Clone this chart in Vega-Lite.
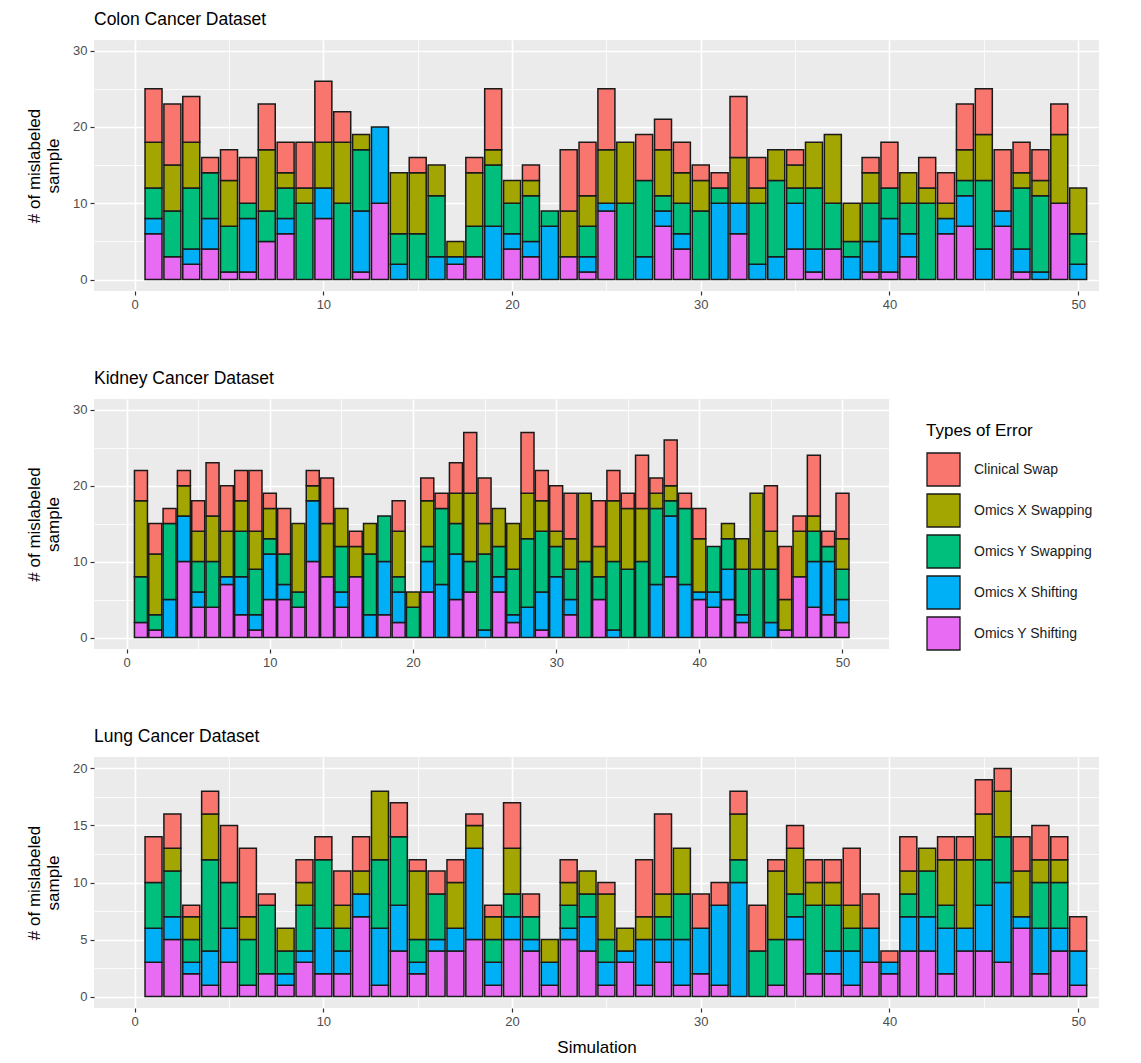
{
  "$schema": "https://vega.github.io/schema/vega-lite/v6.json",
  "background": "white",
  "padding": {"left": 25, "top": 10, "right": 4, "bottom": 4},
  "config": {
    "font": "Liberation Sans",
    "view": {"fill": "#EBEBEB", "stroke": null},
    "title": {"anchor": "start", "frame": "group", "fontSize": 17.5, "fontWeight": "normal", "color": "#000000", "offset": 12, "font": "Liberation Sans"},
    "axis": {
      "domain": false,
      "tickColor": "#333333",
      "tickSize": 4,
      "tickWidth": 1.2,
      "labelColor": "#4D4D4D",
      "labelFontSize": 13,
      "labelPadding": 3,
      "labelOverlap": false,
      "gridColor": "#FFFFFF",
      "titleFontSize": 17,
      "titleFontWeight": "normal",
      "titleColor": "#000000",
      "titleFont": "Liberation Sans",
      "labelFont": "Liberation Sans"
    }
  },
  "datasets": {
    "colon": [
      {"sim":1,"Omics Y Shifting":6,"Omics X Shifting":2,"Omics Y Swapping":4,"Omics X Swapping":6,"Clinical Swap":7},
      {"sim":2,"Omics Y Shifting":3,"Omics X Shifting":0,"Omics Y Swapping":6,"Omics X Swapping":6,"Clinical Swap":8},
      {"sim":3,"Omics Y Shifting":2,"Omics X Shifting":2,"Omics Y Swapping":8,"Omics X Swapping":6,"Clinical Swap":6},
      {"sim":4,"Omics Y Shifting":4,"Omics X Shifting":4,"Omics Y Swapping":6,"Omics X Swapping":0,"Clinical Swap":2},
      {"sim":5,"Omics Y Shifting":1,"Omics X Shifting":0,"Omics Y Swapping":6,"Omics X Swapping":6,"Clinical Swap":4},
      {"sim":6,"Omics Y Shifting":1,"Omics X Shifting":7,"Omics Y Swapping":2,"Omics X Swapping":0,"Clinical Swap":6},
      {"sim":7,"Omics Y Shifting":5,"Omics X Shifting":0,"Omics Y Swapping":4,"Omics X Swapping":8,"Clinical Swap":6},
      {"sim":8,"Omics Y Shifting":6,"Omics X Shifting":2,"Omics Y Swapping":4,"Omics X Swapping":2,"Clinical Swap":4},
      {"sim":9,"Omics Y Shifting":0,"Omics X Shifting":0,"Omics Y Swapping":10,"Omics X Swapping":2,"Clinical Swap":6},
      {"sim":10,"Omics Y Shifting":8,"Omics X Shifting":4,"Omics Y Swapping":0,"Omics X Swapping":6,"Clinical Swap":8},
      {"sim":11,"Omics Y Shifting":0,"Omics X Shifting":0,"Omics Y Swapping":10,"Omics X Swapping":8,"Clinical Swap":4},
      {"sim":12,"Omics Y Shifting":1,"Omics X Shifting":8,"Omics Y Swapping":8,"Omics X Swapping":2,"Clinical Swap":0},
      {"sim":13,"Omics Y Shifting":10,"Omics X Shifting":10,"Omics Y Swapping":0,"Omics X Swapping":0,"Clinical Swap":0},
      {"sim":14,"Omics Y Shifting":0,"Omics X Shifting":2,"Omics Y Swapping":4,"Omics X Swapping":8,"Clinical Swap":0},
      {"sim":15,"Omics Y Shifting":0,"Omics X Shifting":0,"Omics Y Swapping":6,"Omics X Swapping":8,"Clinical Swap":2},
      {"sim":16,"Omics Y Shifting":0,"Omics X Shifting":3,"Omics Y Swapping":8,"Omics X Swapping":4,"Clinical Swap":0},
      {"sim":17,"Omics Y Shifting":2,"Omics X Shifting":1,"Omics Y Swapping":0,"Omics X Swapping":2,"Clinical Swap":0},
      {"sim":18,"Omics Y Shifting":3,"Omics X Shifting":0,"Omics Y Swapping":4,"Omics X Swapping":7,"Clinical Swap":2},
      {"sim":19,"Omics Y Shifting":0,"Omics X Shifting":7,"Omics Y Swapping":8,"Omics X Swapping":2,"Clinical Swap":8},
      {"sim":20,"Omics Y Shifting":4,"Omics X Shifting":2,"Omics Y Swapping":4,"Omics X Swapping":3,"Clinical Swap":0},
      {"sim":21,"Omics Y Shifting":3,"Omics X Shifting":2,"Omics Y Swapping":6,"Omics X Swapping":2,"Clinical Swap":2},
      {"sim":22,"Omics Y Shifting":0,"Omics X Shifting":7,"Omics Y Swapping":2,"Omics X Swapping":0,"Clinical Swap":0},
      {"sim":23,"Omics Y Shifting":3,"Omics X Shifting":0,"Omics Y Swapping":0,"Omics X Swapping":6,"Clinical Swap":8},
      {"sim":24,"Omics Y Shifting":1,"Omics X Shifting":2,"Omics Y Swapping":4,"Omics X Swapping":4,"Clinical Swap":7},
      {"sim":25,"Omics Y Shifting":9,"Omics X Shifting":1,"Omics Y Swapping":0,"Omics X Swapping":7,"Clinical Swap":8},
      {"sim":26,"Omics Y Shifting":0,"Omics X Shifting":0,"Omics Y Swapping":10,"Omics X Swapping":8,"Clinical Swap":0},
      {"sim":27,"Omics Y Shifting":0,"Omics X Shifting":3,"Omics Y Swapping":10,"Omics X Swapping":0,"Clinical Swap":6},
      {"sim":28,"Omics Y Shifting":7,"Omics X Shifting":2,"Omics Y Swapping":2,"Omics X Swapping":6,"Clinical Swap":4},
      {"sim":29,"Omics Y Shifting":4,"Omics X Shifting":2,"Omics Y Swapping":4,"Omics X Swapping":4,"Clinical Swap":4},
      {"sim":30,"Omics Y Shifting":0,"Omics X Shifting":0,"Omics Y Swapping":9,"Omics X Swapping":4,"Clinical Swap":2},
      {"sim":31,"Omics Y Shifting":0,"Omics X Shifting":10,"Omics Y Swapping":2,"Omics X Swapping":0,"Clinical Swap":2},
      {"sim":32,"Omics Y Shifting":6,"Omics X Shifting":4,"Omics Y Swapping":0,"Omics X Swapping":6,"Clinical Swap":8},
      {"sim":33,"Omics Y Shifting":0,"Omics X Shifting":2,"Omics Y Swapping":8,"Omics X Swapping":2,"Clinical Swap":4},
      {"sim":34,"Omics Y Shifting":0,"Omics X Shifting":3,"Omics Y Swapping":10,"Omics X Swapping":4,"Clinical Swap":0},
      {"sim":35,"Omics Y Shifting":4,"Omics X Shifting":6,"Omics Y Swapping":2,"Omics X Swapping":3,"Clinical Swap":2},
      {"sim":36,"Omics Y Shifting":1,"Omics X Shifting":3,"Omics Y Swapping":8,"Omics X Swapping":6,"Clinical Swap":0},
      {"sim":37,"Omics Y Shifting":4,"Omics X Shifting":0,"Omics Y Swapping":6,"Omics X Swapping":9,"Clinical Swap":0},
      {"sim":38,"Omics Y Shifting":0,"Omics X Shifting":3,"Omics Y Swapping":2,"Omics X Swapping":5,"Clinical Swap":0},
      {"sim":39,"Omics Y Shifting":1,"Omics X Shifting":4,"Omics Y Swapping":5,"Omics X Swapping":4,"Clinical Swap":2},
      {"sim":40,"Omics Y Shifting":1,"Omics X Shifting":7,"Omics Y Swapping":4,"Omics X Swapping":0,"Clinical Swap":6},
      {"sim":41,"Omics Y Shifting":3,"Omics X Shifting":3,"Omics Y Swapping":4,"Omics X Swapping":4,"Clinical Swap":0},
      {"sim":42,"Omics Y Shifting":0,"Omics X Shifting":0,"Omics Y Swapping":10,"Omics X Swapping":2,"Clinical Swap":4},
      {"sim":43,"Omics Y Shifting":6,"Omics X Shifting":2,"Omics Y Swapping":0,"Omics X Swapping":2,"Clinical Swap":4},
      {"sim":44,"Omics Y Shifting":7,"Omics X Shifting":4,"Omics Y Swapping":2,"Omics X Swapping":4,"Clinical Swap":6},
      {"sim":45,"Omics Y Shifting":0,"Omics X Shifting":4,"Omics Y Swapping":9,"Omics X Swapping":6,"Clinical Swap":6},
      {"sim":46,"Omics Y Shifting":7,"Omics X Shifting":2,"Omics Y Swapping":0,"Omics X Swapping":0,"Clinical Swap":8},
      {"sim":47,"Omics Y Shifting":1,"Omics X Shifting":3,"Omics Y Swapping":8,"Omics X Swapping":2,"Clinical Swap":4},
      {"sim":48,"Omics Y Shifting":0,"Omics X Shifting":1,"Omics Y Swapping":10,"Omics X Swapping":2,"Clinical Swap":4},
      {"sim":49,"Omics Y Shifting":10,"Omics X Shifting":0,"Omics Y Swapping":0,"Omics X Swapping":9,"Clinical Swap":4},
      {"sim":50,"Omics Y Shifting":0,"Omics X Shifting":2,"Omics Y Swapping":4,"Omics X Swapping":6,"Clinical Swap":0}
    ],
    "kidney": [
      {"sim":1,"Omics Y Shifting":2,"Omics X Shifting":0,"Omics Y Swapping":6,"Omics X Swapping":10,"Clinical Swap":4},
      {"sim":2,"Omics Y Shifting":1,"Omics X Shifting":0,"Omics Y Swapping":2,"Omics X Swapping":8,"Clinical Swap":4},
      {"sim":3,"Omics Y Shifting":0,"Omics X Shifting":5,"Omics Y Swapping":10,"Omics X Swapping":0,"Clinical Swap":2},
      {"sim":4,"Omics Y Shifting":10,"Omics X Shifting":6,"Omics Y Swapping":0,"Omics X Swapping":4,"Clinical Swap":2},
      {"sim":5,"Omics Y Shifting":4,"Omics X Shifting":2,"Omics Y Swapping":4,"Omics X Swapping":4,"Clinical Swap":4},
      {"sim":6,"Omics Y Shifting":4,"Omics X Shifting":0,"Omics Y Swapping":6,"Omics X Swapping":6,"Clinical Swap":7},
      {"sim":7,"Omics Y Shifting":7,"Omics X Shifting":1,"Omics Y Swapping":0,"Omics X Swapping":6,"Clinical Swap":6},
      {"sim":8,"Omics Y Shifting":3,"Omics X Shifting":5,"Omics Y Swapping":6,"Omics X Swapping":4,"Clinical Swap":4},
      {"sim":9,"Omics Y Shifting":1,"Omics X Shifting":2,"Omics Y Swapping":6,"Omics X Swapping":5,"Clinical Swap":8},
      {"sim":10,"Omics Y Shifting":5,"Omics X Shifting":6,"Omics Y Swapping":2,"Omics X Swapping":4,"Clinical Swap":2},
      {"sim":11,"Omics Y Shifting":5,"Omics X Shifting":2,"Omics Y Swapping":4,"Omics X Swapping":0,"Clinical Swap":6},
      {"sim":12,"Omics Y Shifting":4,"Omics X Shifting":0,"Omics Y Swapping":2,"Omics X Swapping":9,"Clinical Swap":0},
      {"sim":13,"Omics Y Shifting":10,"Omics X Shifting":8,"Omics Y Swapping":0,"Omics X Swapping":2,"Clinical Swap":2},
      {"sim":14,"Omics Y Shifting":8,"Omics X Shifting":0,"Omics Y Swapping":0,"Omics X Swapping":7,"Clinical Swap":6},
      {"sim":15,"Omics Y Shifting":4,"Omics X Shifting":2,"Omics Y Swapping":6,"Omics X Swapping":5,"Clinical Swap":0},
      {"sim":16,"Omics Y Shifting":8,"Omics X Shifting":0,"Omics Y Swapping":0,"Omics X Swapping":4,"Clinical Swap":2},
      {"sim":17,"Omics Y Shifting":0,"Omics X Shifting":3,"Omics Y Swapping":8,"Omics X Swapping":4,"Clinical Swap":0},
      {"sim":18,"Omics Y Shifting":3,"Omics X Shifting":7,"Omics Y Swapping":6,"Omics X Swapping":0,"Clinical Swap":0},
      {"sim":19,"Omics Y Shifting":2,"Omics X Shifting":4,"Omics Y Swapping":2,"Omics X Swapping":6,"Clinical Swap":4},
      {"sim":20,"Omics Y Shifting":0,"Omics X Shifting":0,"Omics Y Swapping":4,"Omics X Swapping":2,"Clinical Swap":0},
      {"sim":21,"Omics Y Shifting":6,"Omics X Shifting":4,"Omics Y Swapping":2,"Omics X Swapping":6,"Clinical Swap":3},
      {"sim":22,"Omics Y Shifting":0,"Omics X Shifting":7,"Omics Y Swapping":10,"Omics X Swapping":0,"Clinical Swap":2},
      {"sim":23,"Omics Y Shifting":5,"Omics X Shifting":6,"Omics Y Swapping":4,"Omics X Swapping":4,"Clinical Swap":4},
      {"sim":24,"Omics Y Shifting":6,"Omics X Shifting":0,"Omics Y Swapping":4,"Omics X Swapping":9,"Clinical Swap":8},
      {"sim":25,"Omics Y Shifting":0,"Omics X Shifting":1,"Omics Y Swapping":10,"Omics X Swapping":4,"Clinical Swap":6},
      {"sim":26,"Omics Y Shifting":6,"Omics X Shifting":2,"Omics Y Swapping":4,"Omics X Swapping":5,"Clinical Swap":0},
      {"sim":27,"Omics Y Shifting":2,"Omics X Shifting":1,"Omics Y Swapping":6,"Omics X Swapping":6,"Clinical Swap":0},
      {"sim":28,"Omics Y Shifting":0,"Omics X Shifting":4,"Omics Y Swapping":9,"Omics X Swapping":6,"Clinical Swap":8},
      {"sim":29,"Omics Y Shifting":1,"Omics X Shifting":5,"Omics Y Swapping":8,"Omics X Swapping":4,"Clinical Swap":4},
      {"sim":30,"Omics Y Shifting":0,"Omics X Shifting":8,"Omics Y Swapping":4,"Omics X Swapping":2,"Clinical Swap":6},
      {"sim":31,"Omics Y Shifting":3,"Omics X Shifting":2,"Omics Y Swapping":4,"Omics X Swapping":4,"Clinical Swap":6},
      {"sim":32,"Omics Y Shifting":0,"Omics X Shifting":0,"Omics Y Swapping":10,"Omics X Swapping":9,"Clinical Swap":0},
      {"sim":33,"Omics Y Shifting":5,"Omics X Shifting":0,"Omics Y Swapping":3,"Omics X Swapping":4,"Clinical Swap":6},
      {"sim":34,"Omics Y Shifting":0,"Omics X Shifting":1,"Omics Y Swapping":9,"Omics X Swapping":8,"Clinical Swap":4},
      {"sim":35,"Omics Y Shifting":0,"Omics X Shifting":0,"Omics Y Swapping":9,"Omics X Swapping":8,"Clinical Swap":2},
      {"sim":36,"Omics Y Shifting":0,"Omics X Shifting":0,"Omics Y Swapping":10,"Omics X Swapping":7,"Clinical Swap":7},
      {"sim":37,"Omics Y Shifting":0,"Omics X Shifting":7,"Omics Y Swapping":10,"Omics X Swapping":2,"Clinical Swap":2},
      {"sim":38,"Omics Y Shifting":8,"Omics X Shifting":8,"Omics Y Swapping":2,"Omics X Swapping":2,"Clinical Swap":6},
      {"sim":39,"Omics Y Shifting":0,"Omics X Shifting":7,"Omics Y Swapping":10,"Omics X Swapping":0,"Clinical Swap":2},
      {"sim":40,"Omics Y Shifting":5,"Omics X Shifting":1,"Omics Y Swapping":0,"Omics X Swapping":7,"Clinical Swap":4},
      {"sim":41,"Omics Y Shifting":4,"Omics X Shifting":2,"Omics Y Swapping":6,"Omics X Swapping":0,"Clinical Swap":0},
      {"sim":42,"Omics Y Shifting":5,"Omics X Shifting":4,"Omics Y Swapping":4,"Omics X Swapping":2,"Clinical Swap":0},
      {"sim":43,"Omics Y Shifting":2,"Omics X Shifting":1,"Omics Y Swapping":6,"Omics X Swapping":4,"Clinical Swap":0},
      {"sim":44,"Omics Y Shifting":0,"Omics X Shifting":0,"Omics Y Swapping":9,"Omics X Swapping":10,"Clinical Swap":0},
      {"sim":45,"Omics Y Shifting":0,"Omics X Shifting":2,"Omics Y Swapping":7,"Omics X Swapping":5,"Clinical Swap":6},
      {"sim":46,"Omics Y Shifting":1,"Omics X Shifting":0,"Omics Y Swapping":0,"Omics X Swapping":4,"Clinical Swap":7},
      {"sim":47,"Omics Y Shifting":8,"Omics X Shifting":0,"Omics Y Swapping":0,"Omics X Swapping":6,"Clinical Swap":2},
      {"sim":48,"Omics Y Shifting":4,"Omics X Shifting":6,"Omics Y Swapping":4,"Omics X Swapping":2,"Clinical Swap":8},
      {"sim":49,"Omics Y Shifting":3,"Omics X Shifting":7,"Omics Y Swapping":2,"Omics X Swapping":0,"Clinical Swap":2},
      {"sim":50,"Omics Y Shifting":2,"Omics X Shifting":3,"Omics Y Swapping":4,"Omics X Swapping":4,"Clinical Swap":6}
    ],
    "lung": [
      {"sim":1,"Omics Y Shifting":3,"Omics X Shifting":3,"Omics Y Swapping":4,"Omics X Swapping":0,"Clinical Swap":4},
      {"sim":2,"Omics Y Shifting":5,"Omics X Shifting":2,"Omics Y Swapping":4,"Omics X Swapping":2,"Clinical Swap":3},
      {"sim":3,"Omics Y Shifting":2,"Omics X Shifting":1,"Omics Y Swapping":2,"Omics X Swapping":2,"Clinical Swap":1},
      {"sim":4,"Omics Y Shifting":1,"Omics X Shifting":3,"Omics Y Swapping":8,"Omics X Swapping":4,"Clinical Swap":2},
      {"sim":5,"Omics Y Shifting":3,"Omics X Shifting":3,"Omics Y Swapping":4,"Omics X Swapping":0,"Clinical Swap":5},
      {"sim":6,"Omics Y Shifting":1,"Omics X Shifting":0,"Omics Y Swapping":4,"Omics X Swapping":2,"Clinical Swap":6},
      {"sim":7,"Omics Y Shifting":2,"Omics X Shifting":0,"Omics Y Swapping":6,"Omics X Swapping":0,"Clinical Swap":1},
      {"sim":8,"Omics Y Shifting":1,"Omics X Shifting":1,"Omics Y Swapping":2,"Omics X Swapping":2,"Clinical Swap":0},
      {"sim":9,"Omics Y Shifting":3,"Omics X Shifting":1,"Omics Y Swapping":4,"Omics X Swapping":2,"Clinical Swap":2},
      {"sim":10,"Omics Y Shifting":2,"Omics X Shifting":4,"Omics Y Swapping":6,"Omics X Swapping":0,"Clinical Swap":2},
      {"sim":11,"Omics Y Shifting":2,"Omics X Shifting":2,"Omics Y Swapping":2,"Omics X Swapping":2,"Clinical Swap":3},
      {"sim":12,"Omics Y Shifting":7,"Omics X Shifting":2,"Omics Y Swapping":0,"Omics X Swapping":2,"Clinical Swap":3},
      {"sim":13,"Omics Y Shifting":1,"Omics X Shifting":5,"Omics Y Swapping":6,"Omics X Swapping":6,"Clinical Swap":0},
      {"sim":14,"Omics Y Shifting":4,"Omics X Shifting":4,"Omics Y Swapping":6,"Omics X Swapping":0,"Clinical Swap":3},
      {"sim":15,"Omics Y Shifting":2,"Omics X Shifting":1,"Omics Y Swapping":2,"Omics X Swapping":6,"Clinical Swap":1},
      {"sim":16,"Omics Y Shifting":4,"Omics X Shifting":1,"Omics Y Swapping":4,"Omics X Swapping":0,"Clinical Swap":2},
      {"sim":17,"Omics Y Shifting":4,"Omics X Shifting":2,"Omics Y Swapping":0,"Omics X Swapping":4,"Clinical Swap":2},
      {"sim":18,"Omics Y Shifting":5,"Omics X Shifting":8,"Omics Y Swapping":0,"Omics X Swapping":2,"Clinical Swap":1},
      {"sim":19,"Omics Y Shifting":1,"Omics X Shifting":2,"Omics Y Swapping":2,"Omics X Swapping":2,"Clinical Swap":1},
      {"sim":20,"Omics Y Shifting":5,"Omics X Shifting":2,"Omics Y Swapping":2,"Omics X Swapping":4,"Clinical Swap":4},
      {"sim":21,"Omics Y Shifting":4,"Omics X Shifting":1,"Omics Y Swapping":2,"Omics X Swapping":0,"Clinical Swap":2},
      {"sim":22,"Omics Y Shifting":1,"Omics X Shifting":2,"Omics Y Swapping":0,"Omics X Swapping":2,"Clinical Swap":0},
      {"sim":23,"Omics Y Shifting":5,"Omics X Shifting":1,"Omics Y Swapping":2,"Omics X Swapping":2,"Clinical Swap":2},
      {"sim":24,"Omics Y Shifting":4,"Omics X Shifting":3,"Omics Y Swapping":2,"Omics X Swapping":2,"Clinical Swap":0},
      {"sim":25,"Omics Y Shifting":1,"Omics X Shifting":2,"Omics Y Swapping":2,"Omics X Swapping":4,"Clinical Swap":1},
      {"sim":26,"Omics Y Shifting":3,"Omics X Shifting":1,"Omics Y Swapping":0,"Omics X Swapping":2,"Clinical Swap":0},
      {"sim":27,"Omics Y Shifting":1,"Omics X Shifting":4,"Omics Y Swapping":0,"Omics X Swapping":2,"Clinical Swap":5},
      {"sim":28,"Omics Y Shifting":3,"Omics X Shifting":2,"Omics Y Swapping":2,"Omics X Swapping":2,"Clinical Swap":7},
      {"sim":29,"Omics Y Shifting":1,"Omics X Shifting":4,"Omics Y Swapping":4,"Omics X Swapping":4,"Clinical Swap":0},
      {"sim":30,"Omics Y Shifting":2,"Omics X Shifting":4,"Omics Y Swapping":0,"Omics X Swapping":0,"Clinical Swap":3},
      {"sim":31,"Omics Y Shifting":1,"Omics X Shifting":7,"Omics Y Swapping":0,"Omics X Swapping":0,"Clinical Swap":2},
      {"sim":32,"Omics Y Shifting":0,"Omics X Shifting":10,"Omics Y Swapping":2,"Omics X Swapping":4,"Clinical Swap":2},
      {"sim":33,"Omics Y Shifting":0,"Omics X Shifting":0,"Omics Y Swapping":4,"Omics X Swapping":0,"Clinical Swap":4},
      {"sim":34,"Omics Y Shifting":1,"Omics X Shifting":0,"Omics Y Swapping":4,"Omics X Swapping":6,"Clinical Swap":1},
      {"sim":35,"Omics Y Shifting":5,"Omics X Shifting":2,"Omics Y Swapping":2,"Omics X Swapping":4,"Clinical Swap":2},
      {"sim":36,"Omics Y Shifting":2,"Omics X Shifting":0,"Omics Y Swapping":6,"Omics X Swapping":2,"Clinical Swap":2},
      {"sim":37,"Omics Y Shifting":2,"Omics X Shifting":2,"Omics Y Swapping":4,"Omics X Swapping":2,"Clinical Swap":2},
      {"sim":38,"Omics Y Shifting":1,"Omics X Shifting":3,"Omics Y Swapping":2,"Omics X Swapping":2,"Clinical Swap":5},
      {"sim":39,"Omics Y Shifting":3,"Omics X Shifting":3,"Omics Y Swapping":0,"Omics X Swapping":0,"Clinical Swap":3},
      {"sim":40,"Omics Y Shifting":2,"Omics X Shifting":1,"Omics Y Swapping":0,"Omics X Swapping":0,"Clinical Swap":1},
      {"sim":41,"Omics Y Shifting":4,"Omics X Shifting":3,"Omics Y Swapping":2,"Omics X Swapping":2,"Clinical Swap":3},
      {"sim":42,"Omics Y Shifting":4,"Omics X Shifting":3,"Omics Y Swapping":4,"Omics X Swapping":2,"Clinical Swap":0},
      {"sim":43,"Omics Y Shifting":2,"Omics X Shifting":4,"Omics Y Swapping":2,"Omics X Swapping":4,"Clinical Swap":2},
      {"sim":44,"Omics Y Shifting":4,"Omics X Shifting":2,"Omics Y Swapping":0,"Omics X Swapping":6,"Clinical Swap":2},
      {"sim":45,"Omics Y Shifting":4,"Omics X Shifting":4,"Omics Y Swapping":4,"Omics X Swapping":4,"Clinical Swap":3},
      {"sim":46,"Omics Y Shifting":3,"Omics X Shifting":7,"Omics Y Swapping":4,"Omics X Swapping":4,"Clinical Swap":2},
      {"sim":47,"Omics Y Shifting":6,"Omics X Shifting":1,"Omics Y Swapping":0,"Omics X Swapping":4,"Clinical Swap":3},
      {"sim":48,"Omics Y Shifting":2,"Omics X Shifting":4,"Omics Y Swapping":4,"Omics X Swapping":2,"Clinical Swap":3},
      {"sim":49,"Omics Y Shifting":4,"Omics X Shifting":2,"Omics Y Swapping":4,"Omics X Swapping":2,"Clinical Swap":2},
      {"sim":50,"Omics Y Shifting":1,"Omics X Shifting":3,"Omics Y Swapping":0,"Omics X Swapping":0,"Clinical Swap":3}
    ]
  },
  "bounds": "flush",
  "spacing": 108,
  "resolve": {"scale": {"color": "independent"}, "legend": {"color": "independent"}},
  "vconcat": [
    {
      "title": "Colon Cancer Dataset",
      "data": {"name": "colon"},
      "width": 1005,
      "height": 251,
      "transform": [
        {"fold": ["Omics Y Shifting", "Omics X Shifting", "Omics Y Swapping", "Omics X Swapping", "Clinical Swap"], "as": ["type", "count"]},
        {"filter": "datum.count > 0"},
        {"calculate": "indexof(['Omics Y Shifting','Omics X Shifting','Omics Y Swapping','Omics X Swapping','Clinical Swap'], datum.type)", "as": "stackRank"}
      ],
      "mark": {"type": "bar", "width": 17, "stroke": "#1a1a1a", "strokeWidth": 1.5},
      "encoding": {
        "x": {
          "field": "sim", "type": "quantitative",
          "scale": {"domain": [-1.89, 50.84], "nice": false, "zero": false},
          "axis": {
            "title": null,
            "values": [0, 5, 10, 15, 20, 25, 30, 35, 40, 45, 50],
            "grid": true,
            "gridWidth": {"condition": {"test": "datum.value % 10 === 0", "value": 1.6}, "value": 0.8},
            "tickOpacity": {"condition": {"test": "datum.value % 10 === 0", "value": 1}, "value": 0},
            "labelExpr": "datum.value % 10 === 0 ? datum.label : ''"
          }
        },
        "y": {
          "field": "count", "type": "quantitative", "stack": "zero",
          "scale": {"domain": [-1.5, 31.4], "nice": false, "zero": false},
          "axis": {
            "title": ["# of mislabeled", "sample"],
            "titlePadding": 10,
            "values": [0, 5, 10, 15, 20, 25, 30],
            "grid": true,
            "gridWidth": {"condition": {"test": "datum.value % 10 === 0", "value": 1.6}, "value": 0.8},
            "tickOpacity": {"condition": {"test": "datum.value % 10 === 0", "value": 1}, "value": 0},
            "labelExpr": "datum.value % 10 === 0 ? datum.label : ''"
          }
        },
        "color": {
          "field": "type", "type": "nominal",
          "scale": {"domain": ["Clinical Swap", "Omics X Swapping", "Omics Y Swapping", "Omics X Shifting", "Omics Y Shifting"], "range": ["#F8766D", "#A3A500", "#00BF7D", "#00B0F6", "#E76BF3"]},
          "legend": null
        },
        "order": {"field": "stackRank", "type": "quantitative"}
      }
    },
    {
      "title": "Kidney Cancer Dataset",
      "data": {"name": "kidney"},
      "width": 795,
      "height": 250,
      "transform": [
        {"fold": ["Omics Y Shifting", "Omics X Shifting", "Omics Y Swapping", "Omics X Swapping", "Clinical Swap"], "as": ["type", "count"]},
        {"filter": "datum.count > 0"},
        {"calculate": "indexof(['Omics Y Shifting','Omics X Shifting','Omics Y Swapping','Omics X Swapping','Clinical Swap'], datum.type)", "as": "stackRank"}
      ],
      "mark": {"type": "bar", "width": 13, "stroke": "#1a1a1a", "strokeWidth": 1.5},
      "encoding": {
        "x": {
          "field": "sim", "type": "quantitative",
          "scale": {"domain": [-1.93, 52.9], "nice": false, "zero": false},
          "axis": {
            "title": null,
            "values": [0, 5, 10, 15, 20, 25, 30, 35, 40, 45, 50],
            "grid": true,
            "gridWidth": {"condition": {"test": "datum.value % 10 === 0", "value": 1.6}, "value": 0.8},
            "tickOpacity": {"condition": {"test": "datum.value % 10 === 0", "value": 1}, "value": 0},
            "labelExpr": "datum.value % 10 === 0 ? datum.label : ''"
          }
        },
        "y": {
          "field": "count", "type": "quantitative", "stack": "zero",
          "scale": {"domain": [-1.5, 31.4], "nice": false, "zero": false},
          "axis": {
            "title": ["# of mislabeled", "sample"],
            "titlePadding": 10,
            "values": [0, 5, 10, 15, 20, 25, 30],
            "grid": true,
            "gridWidth": {"condition": {"test": "datum.value % 10 === 0", "value": 1.6}, "value": 0.8},
            "tickOpacity": {"condition": {"test": "datum.value % 10 === 0", "value": 1}, "value": 0},
            "labelExpr": "datum.value % 10 === 0 ? datum.label : ''"
          }
        },
        "color": {
          "field": "type", "type": "nominal",
          "scale": {"domain": ["Clinical Swap", "Omics X Swapping", "Omics Y Swapping", "Omics X Shifting", "Omics Y Shifting"], "range": ["#F8766D", "#A3A500", "#00BF7D", "#00B0F6", "#E76BF3"]},
          "legend": {
            "title": "Types of Error",
            "orient": "none",
            "legendX": 832,
            "legendY": 24,
            "padding": 0,
            "titleFontSize": 17,
            "titleFontWeight": "normal",
            "titleColor": "#000000",
            "titleFont": "Liberation Sans",
            "titlePadding": 12,
            "labelFontSize": 14,
            "labelColor": "#1a1a1a",
            "labelFont": "Liberation Sans",
            "labelOffset": 13,
            "symbolType": "square",
            "symbolSize": 1089,
            "symbolStrokeColor": "#1a1a1a",
            "symbolStrokeWidth": 1.3,
            "symbolOpacity": 1,
            "rowPadding": 2
          }
        },
        "order": {"field": "stackRank", "type": "quantitative"}
      }
    },
    {
      "title": "Lung Cancer Dataset",
      "data": {"name": "lung"},
      "width": 1005,
      "height": 251,
      "transform": [
        {"fold": ["Omics Y Shifting", "Omics X Shifting", "Omics Y Swapping", "Omics X Swapping", "Clinical Swap"], "as": ["type", "count"]},
        {"filter": "datum.count > 0"},
        {"calculate": "indexof(['Omics Y Shifting','Omics X Shifting','Omics Y Swapping','Omics X Swapping','Clinical Swap'], datum.type)", "as": "stackRank"}
      ],
      "mark": {"type": "bar", "width": 17, "stroke": "#1a1a1a", "strokeWidth": 1.5},
      "encoding": {
        "x": {
          "field": "sim", "type": "quantitative",
          "scale": {"domain": [-1.89, 50.84], "nice": false, "zero": false},
          "axis": {
            "title": "Simulation",
            "titlePadding": 11,
            "values": [0, 5, 10, 15, 20, 25, 30, 35, 40, 45, 50],
            "grid": true,
            "gridWidth": {"condition": {"test": "datum.value % 10 === 0", "value": 1.6}, "value": 0.8},
            "tickOpacity": {"condition": {"test": "datum.value % 10 === 0", "value": 1}, "value": 0},
            "labelExpr": "datum.value % 10 === 0 ? datum.label : ''"
          }
        },
        "y": {
          "field": "count", "type": "quantitative", "stack": "zero",
          "scale": {"domain": [-1, 21], "nice": false, "zero": false},
          "axis": {
            "title": ["# of mislabeled", "sample"],
            "titlePadding": 10,
            "values": [0, 2.5, 5, 7.5, 10, 12.5, 15, 17.5, 20],
            "grid": true,
            "gridWidth": {"condition": {"test": "datum.value % 5 === 0", "value": 1.6}, "value": 0.8},
            "tickOpacity": {"condition": {"test": "datum.value % 5 === 0", "value": 1}, "value": 0},
            "labelExpr": "datum.value % 5 === 0 ? datum.label : ''"
          }
        },
        "color": {
          "field": "type", "type": "nominal",
          "scale": {"domain": ["Clinical Swap", "Omics X Swapping", "Omics Y Swapping", "Omics X Shifting", "Omics Y Shifting"], "range": ["#F8766D", "#A3A500", "#00BF7D", "#00B0F6", "#E76BF3"]},
          "legend": null
        },
        "order": {"field": "stackRank", "type": "quantitative"}
      }
    }
  ]
}
